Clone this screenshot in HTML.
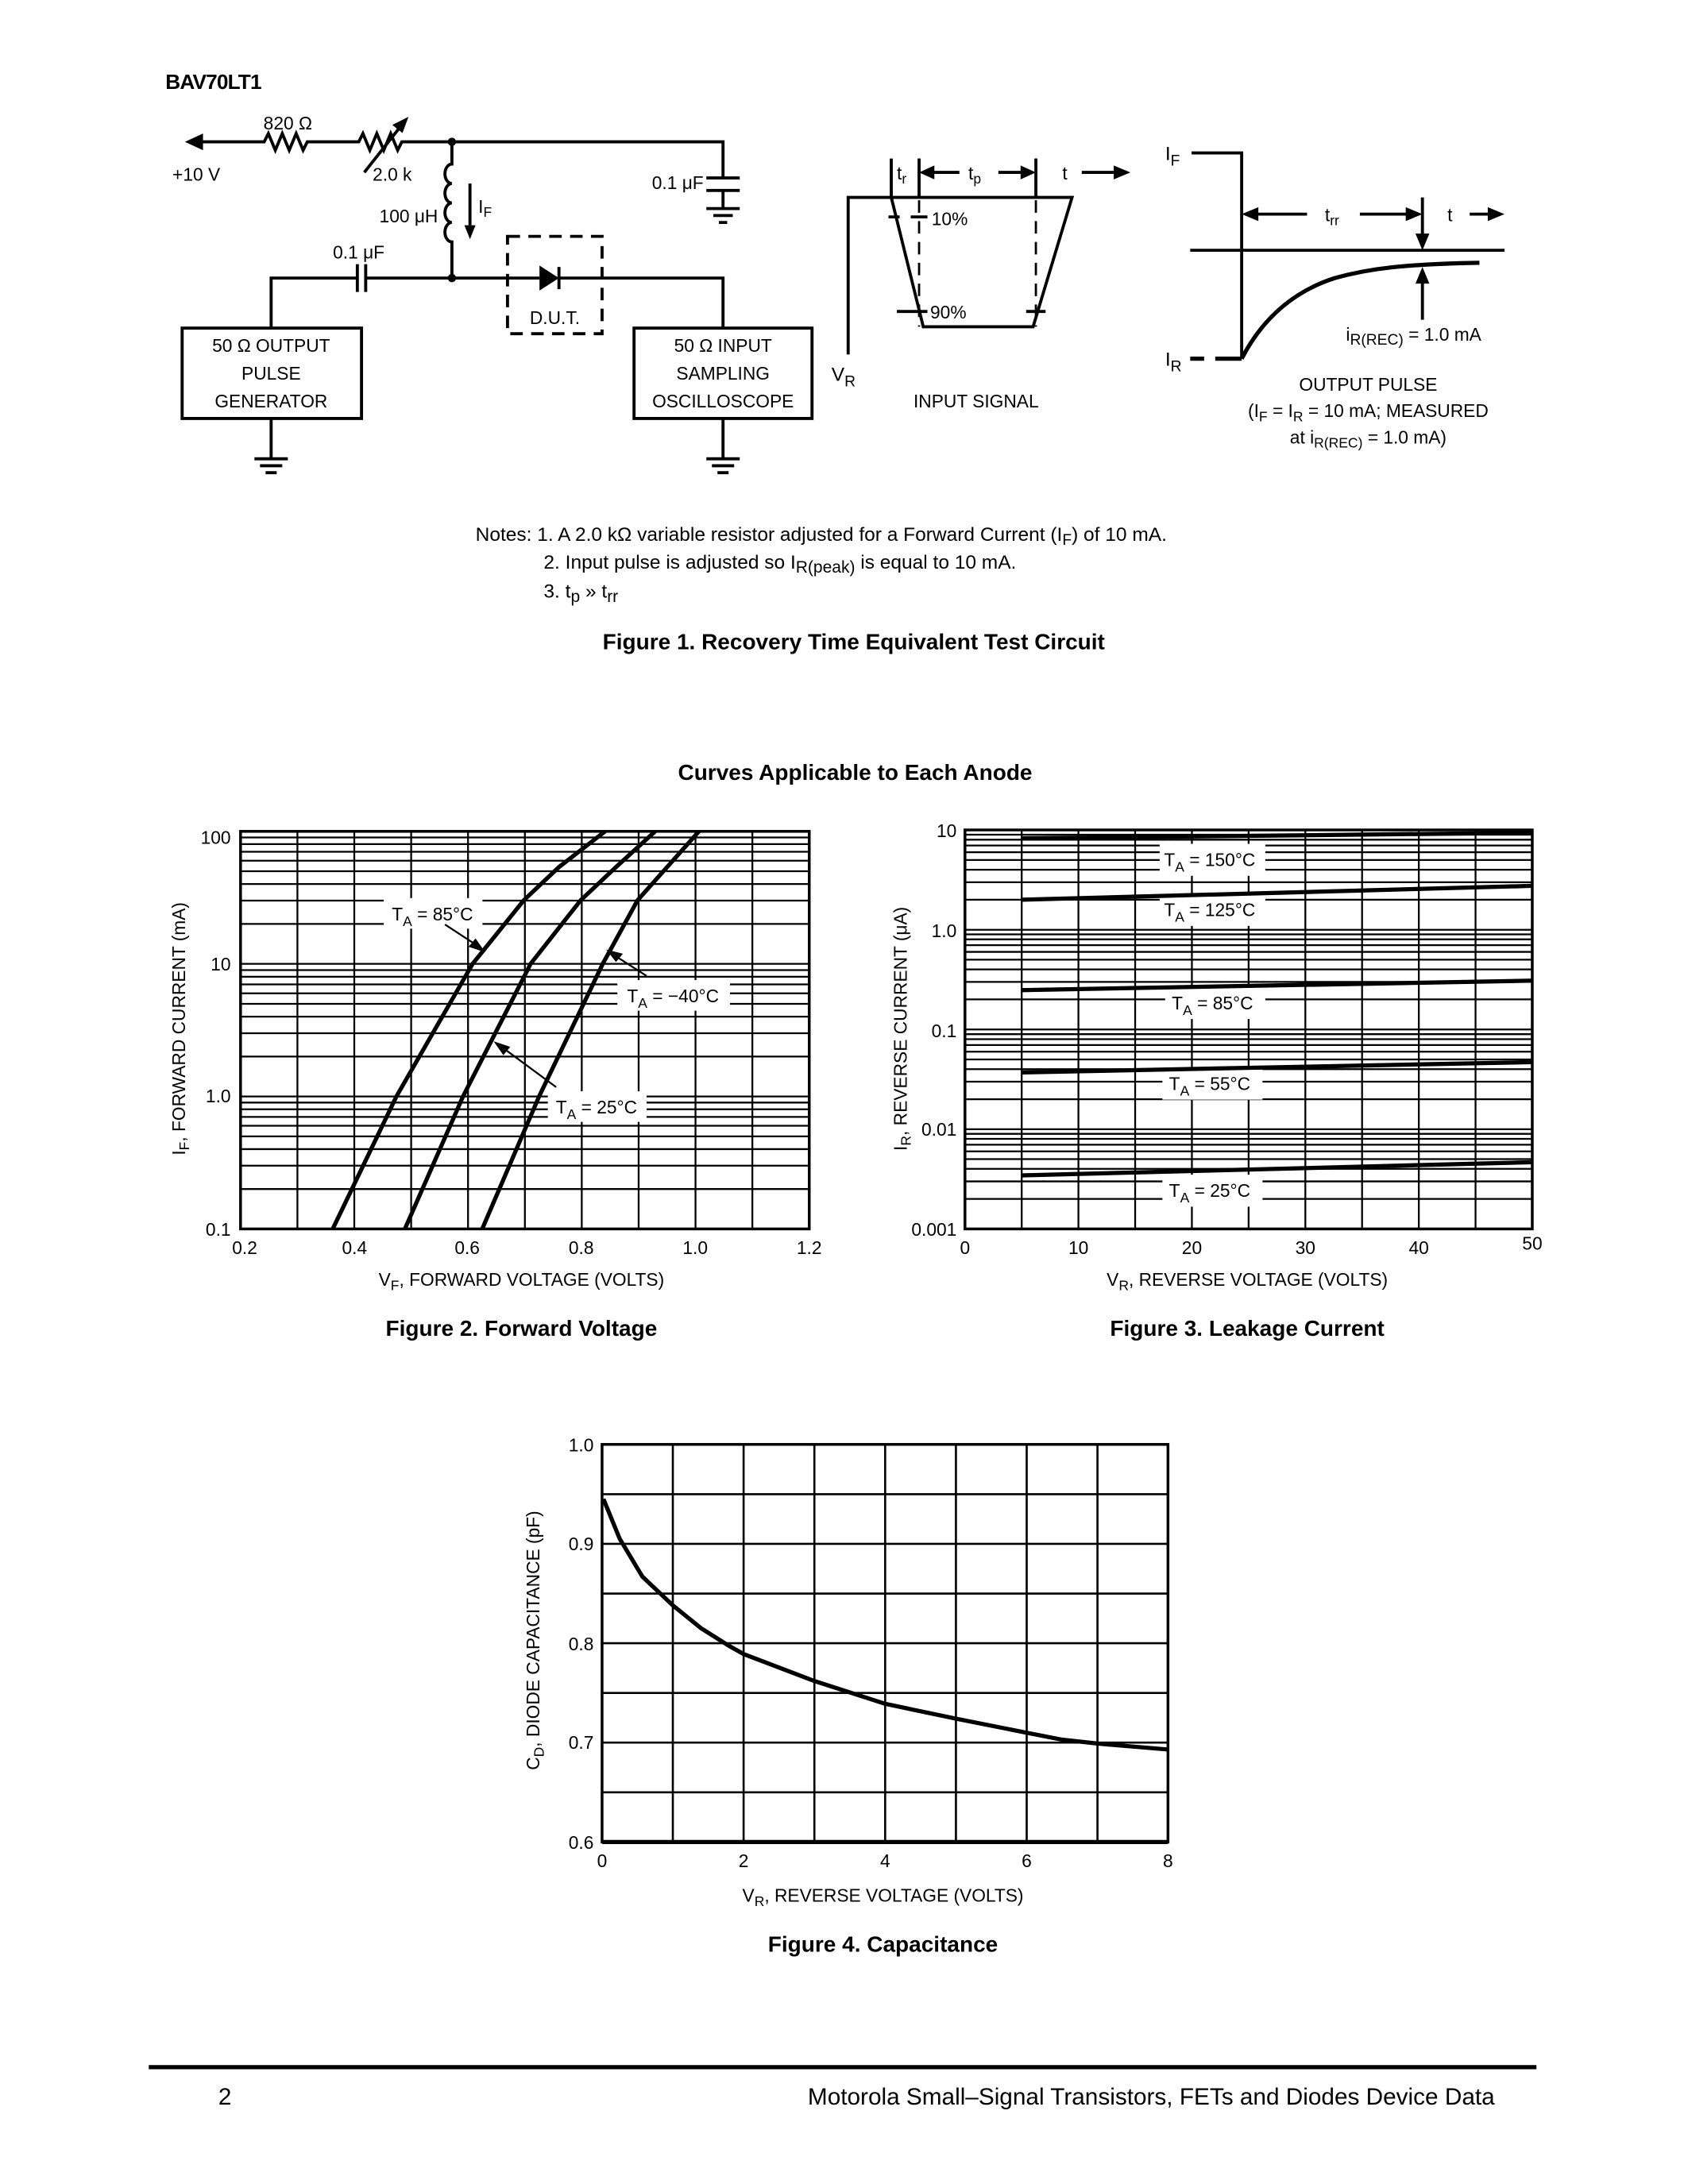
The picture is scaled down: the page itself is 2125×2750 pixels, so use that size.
<!DOCTYPE html>
<html><head><meta charset="utf-8"><style>
html,body{margin:0;padding:0;background:#fff}
svg{display:block}
text{font-family:"Liberation Sans",sans-serif;fill:#000}
</style></head><body>
<svg width="2125" height="2750" viewBox="0 0 1214 1571" xmlns="http://www.w3.org/2000/svg">
<rect width="1214" height="1571" fill="#fff"/>
<text x="119" y="64" font-size="15" font-weight="900" letter-spacing="-0.5">BAV70LT1</text>

<!-- Circuit -->
<g stroke="#000" stroke-width="2.2" fill="none">
<path d="M140 102 H190 l3 -6 l5 12 l5 -12 l5 12 l5 -12 l5 12 l3 -6 H258 l3 -6 l5 12 l5 -12 l5 12 l5 -12 l5 12 l3 -6 H520 V128"/>
<path d="M262 124 L292 86"/>
<path d="M508 128 H532 M508 137 H532 M520 137 V150 M508 150 H532 M513 155 H527 M517 160 H523"/>
<path d="M325 102 V118 a5 7 0 0 0 0 14 a5 7 0 0 0 0 14 a5 7 0 0 0 0 14 a5 7 0 0 0 0 14 V200"/>
<path d="M338 132 V162"/>
<path d="M195 236 V200 H257 M263 200 H388 M402 200 H520 V236"/>
<path d="M257 190 V210 M263 190 V210"/>
<path d="M402 192 V208"/>
<rect x="131" y="236" width="129" height="65"/>
<rect x="456" y="236" width="128" height="65"/>
<path d="M195 301 V330 M183 330 H207 M187 335 H203 M191 340 H199"/>
<path d="M520 301 V330 M508 330 H532 M512 335 H528 M516 340 H524"/>
<rect x="365" y="170" width="68" height="70" stroke-dasharray="9,6"/>
</g>
<path d="M133 102 L146 96 L146 108 Z"/>
<path d="M292 86 L284 90 L289 94 Z" stroke="#000" stroke-width="2"/>
<path d="M334 162 L342 162 L338 172 Z"/>
<path d="M388 191 L402 200 L388 209 Z"/>
<circle cx="325" cy="102" r="3"/><circle cx="325" cy="200" r="3"/>
<text x="207" y="93" font-size="13" text-anchor="middle">820 Ω</text>
<text x="124" y="130" font-size="13">+10 V</text>
<text x="268" y="130" font-size="13">2.0 k</text>
<text x="506" y="136" font-size="13" text-anchor="end">0.1 μF</text>
<text x="315" y="160" font-size="13" text-anchor="end">100 μH</text>
<text x="344" y="153" font-size="13">I<tspan dy="3" font-size="10">F</tspan></text>
<text x="258" y="186" font-size="13" text-anchor="middle">0.1 μF</text>
<text x="399" y="233" font-size="13" text-anchor="middle">D.U.T.</text>
<g font-size="13" text-anchor="middle">
<text x="195" y="253">50 Ω OUTPUT</text><text x="195" y="273">PULSE</text><text x="195" y="293">GENERATOR</text>
<text x="520" y="253">50 Ω INPUT</text><text x="520" y="273">SAMPLING</text><text x="520" y="293">OSCILLOSCOPE</text>
</g>

<!-- Input signal -->
<g stroke="#000" stroke-width="2.2" fill="none">
<path d="M610 255 V142 H771 L743 235 H664 L641 142"/>
<path d="M641 114 V142 M639 156 H647 M655 156 H667 M645 224 H667 M738 224 H752"/>
<path d="M661 114 V235 M745 114 V235" stroke-dasharray="9,6" stroke-width="1.6"/>
<path d="M661 114 V142 M745 114 V142"/>
<path d="M668 124 H690 M718 124 H736"/>
<path d="M778 124 H802"/>
</g>
<path d="M661 124 L672 119 L672 129 Z M745 124 L734 119 L734 129 Z M813 124 L801 119 L801 129 Z"/>
<text x="645" y="129" font-size="13">t<tspan dy="3" font-size="10">r</tspan></text>
<text x="701" y="129" font-size="13" text-anchor="middle">t<tspan dy="3" font-size="10">p</tspan></text>
<text x="764" y="129" font-size="13">t</text>
<text x="670" y="162" font-size="13">10%</text>
<text x="669" y="229" font-size="13">90%</text>
<text x="598" y="274" font-size="14">V<tspan dy="4" font-size="11">R</tspan></text>
<text x="702" y="293" font-size="13" text-anchor="middle">INPUT SIGNAL</text>

<!-- Output pulse -->
<g stroke="#000" stroke-width="2.2" fill="none">
<path d="M857 110 H893 V258"/>
<path d="M856 180 H1082"/>
<path d="M856 258 H866 M874 258 H893" stroke-width="3"/>
<path d="M893 258 C910 225 935 208 960 200 C985 193 1010 190 1064 189" stroke-width="3"/>
<path d="M903 154 H940 M978 154 H1012 M1023 142 V172 M1023 230 V200 M1057 154 H1072"/>
</g>
<path d="M893 154 L905 149 L905 159 Z M1023 154 L1011 149 L1011 159 Z M1082 154 L1070 149 L1070 159 Z M1023 180 L1018 168 L1028 168 Z M1023 192 L1018 204 L1028 204 Z"/>
<text x="838" y="115" font-size="14">I<tspan dy="4" font-size="11">F</tspan></text>
<text x="838" y="263" font-size="14">I<tspan dy="4" font-size="11">R</tspan></text>
<text x="958" y="159" font-size="13" text-anchor="middle">t<tspan dy="3" font-size="10">rr</tspan></text>
<text x="1041" y="159" font-size="13">t</text>
<text x="968" y="245" font-size="13">i<tspan dy="3" font-size="11">R(REC)</tspan><tspan dy="-3"> = 1.0 mA</tspan></text>
<text x="984" y="281" font-size="13" text-anchor="middle">OUTPUT PULSE</text>
<text x="984" y="300" font-size="13" text-anchor="middle">(I<tspan dy="3" font-size="10">F</tspan><tspan dy="-3"> = I</tspan><tspan dy="3" font-size="10">R</tspan><tspan dy="-3"> = 10 mA; MEASURED</tspan></text>
<text x="984" y="319" font-size="13" text-anchor="middle">at i<tspan dy="3" font-size="10">R(REC)</tspan><tspan dy="-3"> = 1.0 mA)</tspan></text>

<!-- Notes -->
<g font-size="14">
<text x="342" y="389">Notes: 1. A 2.0 kΩ variable resistor adjusted for a Forward Current (I<tspan dy="3" font-size="11">F</tspan><tspan dy="-3">) of 10 mA.</tspan></text>
<text x="391" y="409">2. Input pulse is adjusted so I<tspan dy="3" font-size="12">R(peak)</tspan><tspan dy="-3"> is equal to 10 mA.</tspan></text>
<text x="391" y="430">3. t<tspan dy="3" font-size="12">p</tspan><tspan dy="-3"> » t</tspan><tspan dy="3" font-size="12">rr</tspan></text>
</g>
<text x="614" y="467" font-size="16" font-weight="bold" text-anchor="middle">Figure 1. Recovery Time Equivalent Test Circuit</text>
<text x="615" y="561" font-size="16" font-weight="bold" text-anchor="middle">Curves Applicable to Each Anode</text>

<!-- Figure 2 -->
<g stroke="#000" stroke-width="1.3" fill="none">
<path d="M173 855.3H582M173 838.5H582M173 826.6H582M173 817.4H582M173 809.8H582M173 803.4H582M173 797.9H582M173 793.1H582
M173 788.7H582M173 760H582M173 743.2H582M173 731.3H582M173 722.1H582M173 714.5H582M173 708.1H582M173 702.6H582M173 697.8H582
M173 693.3H582M173 664.6H582M173 647.8H582M173 635.9H582M173 626.7H582M173 619.1H582M173 612.7H582M173 607.2H582M173 602.4H582"/>
<path d="M213.9 598V884M254.8 598V884M295.7 598V884M336.6 598V884M377.5 598V884M418.4 598V884M459.3 598V884M500.2 598V884M541.1 598V884"/>
</g>
<rect x="276" y="646" width="71" height="22" fill="#fff"/>
<rect x="444" y="705" width="81" height="22" fill="#fff"/>
<rect x="394" y="785" width="71" height="22" fill="#fff"/>
<rect x="173" y="598" width="409" height="286" fill="none" stroke="#000" stroke-width="2"/>
<g stroke="#000" stroke-width="3" fill="none">
<polyline points="239.3,884 285.1,788.7 339.9,693.3 376.7,647.6 402,623.7 435.2,598"/>
<polyline points="291.2,884 333,788.7 381.6,693.3 417.6,647.6 443,623.7 471.2,598"/>
<polyline points="346.8,884 387.7,788.7 433.5,693.3 458.5,647.6 479.8,623.7 502.7,598"/>
</g>
<g stroke="#000" stroke-width="1.3">
<line x1="320" y1="665" x2="346" y2="682"/><line x1="465" y1="702" x2="440" y2="686"/><line x1="400" y1="782" x2="358" y2="751"/>
</g>
<path d="M349 685 L337 681 L342 675 Z M436 683 L448 686 L443 692 Z M355 749 L367 753 L362 759 Z"/>
<g font-size="13" text-anchor="middle">
<text x="311" y="662">T<tspan dy="4" font-size="10">A</tspan><tspan dy="-4"> = 85°C</tspan></text>
<text x="484" y="721">T<tspan dy="4" font-size="10">A</tspan><tspan dy="-4"> = −40°C</tspan></text>
<text x="429" y="801">T<tspan dy="4" font-size="10">A</tspan><tspan dy="-4"> = 25°C</tspan></text>
</g>
<g font-size="13" text-anchor="end">
<text x="166" y="607">100</text><text x="166" y="698">10</text><text x="166" y="793">1.0</text><text x="166" y="889">0.1</text>
</g>
<g font-size="13" text-anchor="middle">
<text x="176" y="902">0.2</text><text x="255" y="902">0.4</text><text x="336" y="902">0.6</text><text x="418" y="902">0.8</text><text x="500" y="902">1.0</text><text x="582" y="902">1.2</text>
<text x="375" y="925">V<tspan dy="3" font-size="10">F</tspan><tspan dy="-3">, FORWARD VOLTAGE (VOLTS)</tspan></text>
</g>
<text transform="translate(133,740) rotate(-90)" font-size="13" text-anchor="middle">I<tspan dy="3" font-size="10">F</tspan><tspan dy="-3">, FORWARD CURRENT (mA)</tspan></text>
<text x="375" y="961" font-size="16" font-weight="bold" text-anchor="middle">Figure 2. Forward Voltage</text>

<!-- Figure 3 -->
<g stroke="#000" stroke-width="1.3" fill="none">
<path d="M694 862.4H1102M694 849.8H1102M694 840.8H1102M694 833.8H1102M694 828.2H1102M694 823.4H1102M694 819.2H1102M694 815.6H1102
M694 812.3H1102M694 790.7H1102M694 778.1H1102M694 769.1H1102M694 762.1H1102M694 756.5H1102M694 751.7H1102M694 747.5H1102M694 743.9H1102
M694 740.5H1102M694 718.9H1102M694 706.3H1102M694 697.3H1102M694 690.3H1102M694 684.7H1102M694 679.9H1102M694 675.7H1102M694 672.1H1102
M694 668.8H1102M694 647.2H1102M694 634.6H1102M694 625.6H1102M694 618.6H1102M694 613H1102M694 608.2H1102M694 604H1102M694 600.4H1102"/>
<path d="M734.8 597V884M775.6 597V884M816.4 597V884M857.2 597V884M898 597V884M938.8 597V884M979.6 597V884M1020.4 597V884M1061.2 597V884"/>
</g>
<g fill="#fff">
<rect x="834" y="607" width="76" height="23"/><rect x="834" y="643" width="76" height="23"/>
<rect x="838" y="710" width="72" height="23"/><rect x="836" y="768" width="72" height="23"/><rect x="836" y="845" width="72" height="23"/>
</g>
<rect x="694" y="597" width="408" height="287" fill="none" stroke="#000" stroke-width="2"/>
<g stroke="#000" stroke-width="3">
<line x1="735" y1="603" x2="1102" y2="599"/>
<line x1="735" y1="647.2" x2="1102" y2="637.2"/>
<line x1="735" y1="712.2" x2="1102" y2="705.4"/>
<line x1="735" y1="771.4" x2="1102" y2="764"/>
<line x1="735" y1="845.5" x2="1102" y2="836"/>
</g>
<g font-size="13" text-anchor="middle">
<text x="870" y="623">T<tspan dy="4" font-size="10">A</tspan><tspan dy="-4"> = 150°C</tspan></text>
<text x="870" y="659">T<tspan dy="4" font-size="10">A</tspan><tspan dy="-4"> = 125°C</tspan></text>
<text x="872" y="726">T<tspan dy="4" font-size="10">A</tspan><tspan dy="-4"> = 85°C</tspan></text>
<text x="870" y="784">T<tspan dy="4" font-size="10">A</tspan><tspan dy="-4"> = 55°C</tspan></text>
<text x="870" y="861">T<tspan dy="4" font-size="10">A</tspan><tspan dy="-4"> = 25°C</tspan></text>
</g>
<g font-size="13" text-anchor="end">
<text x="688" y="602">10</text><text x="688" y="674">1.0</text><text x="688" y="746">0.1</text><text x="688" y="817">0.01</text><text x="688" y="889">0.001</text>
</g>
<g font-size="13" text-anchor="middle">
<text x="694" y="902">0</text><text x="775.6" y="902">10</text><text x="857.2" y="902">20</text><text x="938.8" y="902">30</text><text x="1020.4" y="902">40</text><text x="1102" y="899">50</text>
<text x="897" y="925">V<tspan dy="3" font-size="10">R</tspan><tspan dy="-3">, REVERSE VOLTAGE (VOLTS)</tspan></text>
</g>
<text transform="translate(652,740) rotate(-90)" font-size="13" text-anchor="middle">I<tspan dy="3" font-size="10">R</tspan><tspan dy="-3">, REVERSE CURRENT (μA)</tspan></text>
<text x="897" y="961" font-size="16" font-weight="bold" text-anchor="middle">Figure 3. Leakage Current</text>

<!-- Figure 4 -->
<g stroke="#000" stroke-width="1.5" fill="none">
<path d="M483.9 1039V1325M534.8 1039V1325M585.7 1039V1325M636.6 1039V1325M687.5 1039V1325M738.4 1039V1325M789.3 1039V1325"/>
<path d="M433 1074.8H840M433 1110.5H840M433 1146.3H840M433 1182H840M433 1217.8H840M433 1253.5H840M433 1289.3H840"/>
</g>
<rect x="433" y="1039" width="407" height="286" fill="none" stroke="#000" stroke-width="2"/>
<line x1="433" y1="1325" x2="840" y2="1325" stroke="#000" stroke-width="3"/>
<polyline fill="none" stroke="#000" stroke-width="3" points="434,1078.3 445.7,1106.9 462,1134.1 483.9,1154.8 504.3,1171.3 524.6,1184.1 534.8,1189.8 585.7,1209.2 636.6,1225.6 687.5,1236.3 738.4,1246.4 763.9,1251.4 789.3,1254.2 840.2,1258.5"/>
<g font-size="13" text-anchor="end">
<text x="427" y="1044">1.0</text><text x="427" y="1115">0.9</text><text x="427" y="1187">0.8</text><text x="427" y="1258">0.7</text><text x="427" y="1330">0.6</text>
</g>
<g font-size="13" text-anchor="middle">
<text x="433" y="1343">0</text><text x="534.8" y="1343">2</text><text x="636.6" y="1343">4</text><text x="738.4" y="1343">6</text><text x="840" y="1343">8</text>
<text x="635" y="1368">V<tspan dy="3" font-size="10">R</tspan><tspan dy="-3">, REVERSE VOLTAGE (VOLTS)</tspan></text>
</g>
<text transform="translate(388,1180) rotate(-90)" font-size="13" text-anchor="middle">C<tspan dy="3" font-size="10">D</tspan><tspan dy="-3">, DIODE CAPACITANCE (pF)</tspan></text>
<text x="635" y="1404" font-size="16" font-weight="bold" text-anchor="middle">Figure 4. Capacitance</text>

<!-- Footer -->
<line x1="107" y1="1487" x2="1105" y2="1487" stroke="#000" stroke-width="3"/>
<text x="157" y="1514" font-size="17">2</text>
<text x="1075" y="1514" font-size="17" text-anchor="end">Motorola Small–Signal Transistors, FETs and Diodes Device Data</text>
</svg>
</body></html>
